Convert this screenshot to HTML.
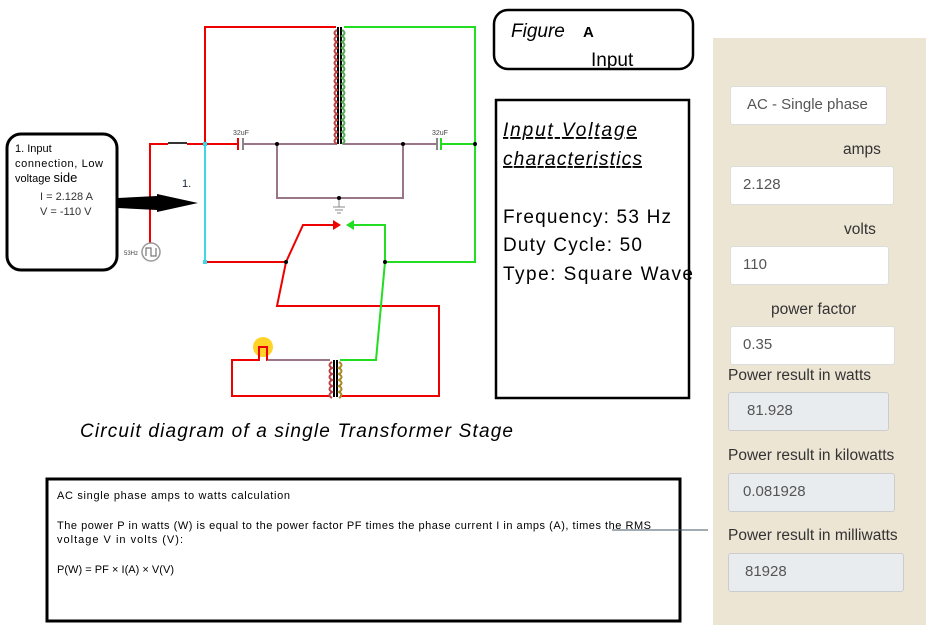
<!DOCTYPE html>
<html><head><meta charset="utf-8"><style>
body{margin:0;width:941px;height:643px;background:#fff;overflow:hidden;position:relative;font-family:"Liberation Sans",sans-serif}
.a{position:absolute}
.inp{position:absolute;background:#fff;border:1px solid #ddd;border-radius:3px;font-size:15px;color:#555;box-sizing:border-box;padding-left:12px;line-height:36px}
.ro{background:#e9ecef;border-color:#ccc}
.lab{position:absolute;font-size:15.5px;color:#333}
</style></head><body>
<svg class="a" style="left:0;top:0" width="941" height="643">
<g fill="none" stroke-width="2">
<polyline points="205,144 205,27 336,27" stroke="#e00"/>
<polyline points="344,27 475,27 475,262 385,262" stroke="#2d2"/>
<polyline points="150,243 150,144 168,144" stroke="#e00"/>
<line x1="168" y1="143" x2="187" y2="143" stroke="#333"/>
<line x1="187" y1="144" x2="238" y2="144" stroke="#e00"/>
<line x1="238" y1="138" x2="238" y2="150" stroke="#e00"/>
<line x1="243" y1="138" x2="243" y2="150" stroke="#888"/>
<polyline points="243,144 337,144" stroke="#978"/>
<polyline points="343,144 437,144" stroke="#978"/>
<line x1="437" y1="138" x2="437" y2="150" stroke="#888"/>
<line x1="441" y1="138" x2="441" y2="150" stroke="#2d2"/>
<line x1="441" y1="144" x2="475" y2="144" stroke="#2d2"/>
<polyline points="277,144 277,198 403,198 403,144" stroke="#978"/>
<line x1="339" y1="198" x2="339" y2="207" stroke="#888" stroke-width="1"/>
<line x1="333" y1="207" x2="345" y2="207" stroke="#888" stroke-width="1"/>
<line x1="335" y1="210" x2="343" y2="210" stroke="#888" stroke-width="1"/>
<line x1="337" y1="213" x2="341" y2="213" stroke="#888" stroke-width="1"/>
<line x1="205" y1="144" x2="205" y2="262" stroke="#3dd8e8"/>
<polyline points="205,262 286,262 303,225 338,225" stroke="#e00"/>
<polyline points="349,225 385,225 385,262" stroke="#2d2"/>
<polyline points="286,262 277,306 439,306 439,396 340,396" stroke="#e00"/>
<polyline points="385,262 376,360 340,360" stroke="#2d2"/>
<polyline points="330,396 232,396 232,360 259,360 259,347 267,347 267,360 330,360" stroke="#e00"/>
<line x1="267" y1="360" x2="330" y2="360" stroke="#978"/>
<line x1="338" y1="27" x2="338" y2="144" stroke="#000" stroke-width="2"/>
<line x1="341" y1="27" x2="341" y2="144" stroke="#000" stroke-width="2"/>
<path d="M337,30 q-5,3 0,6 q-5,3 0,6 q-5,3 0,6 q-5,3 0,6 q-5,3 0,6 q-5,3 0,6 q-5,3 0,6 q-5,3 0,6 q-5,3 0,6 q-5,3 0,6 q-5,3 0,6 q-5,3 0,6 q-5,3 0,6 q-5,3 0,6 q-5,3 0,6 q-5,3 0,6 q-5,3 0,6 q-5,3 0,6 q-5,3 0,6" stroke="#b44" stroke-width="2"/>
<path d="M342,30 q5,3 0,6 q5,3 0,6 q5,3 0,6 q5,3 0,6 q5,3 0,6 q5,3 0,6 q5,3 0,6 q5,3 0,6 q5,3 0,6 q5,3 0,6 q5,3 0,6 q5,3 0,6 q5,3 0,6 q5,3 0,6 q5,3 0,6 q5,3 0,6 q5,3 0,6 q5,3 0,6 q5,3 0,6" stroke="#5a5" stroke-width="2"/>
<line x1="334" y1="360" x2="334" y2="397" stroke="#000"/>
<line x1="337" y1="360" x2="337" y2="397" stroke="#000"/>
<path d="M332,362 q-5,3 0,6 q-5,3 0,6 q-5,3 0,6 q-5,3 0,6 q-5,3 0,6 q-5,3 0,6" stroke="#b44" stroke-width="2"/>
<path d="M339,362 q5,3 0,6 q5,3 0,6 q5,3 0,6 q5,3 0,6 q5,3 0,6 q5,3 0,6" stroke="#a82" stroke-width="2"/>
<circle cx="151" cy="252" r="9" stroke="#999" stroke-width="1.5" fill="#fff"/>
<path d="M146,256 v-8 h5 v8 h5 v-8" stroke="#777" stroke-width="1.2"/>
<rect x="7" y="134" width="110" height="136" rx="14" stroke="#000" stroke-width="3"/>
<rect x="494" y="10" width="199" height="59" rx="14" stroke="#000" stroke-width="2.5"/>
<rect x="496" y="100" width="193" height="298" stroke="#000" stroke-width="2.5"/>
<rect x="47" y="479" width="633" height="142" stroke="#000" stroke-width="3"/>
</g>
<polygon points="333,220 341,225 333,230" fill="#e00"/>
<polygon points="354,220 346,225 354,230" fill="#2d2"/>
<circle cx="263" cy="347" r="10" fill="#fc0" opacity="0.85"/>
<polyline points="259,360 259,347 267,347 267,360" fill="none" stroke="#e00" stroke-width="2"/>
<g fill="#000"><circle cx="277" cy="144" r="2"/><circle cx="403" cy="144" r="2"/><circle cx="475" cy="144" r="2"/><circle cx="339" cy="198" r="2"/><circle cx="286" cy="262" r="2"/><circle cx="385" cy="262" r="2"/></g>
<rect x="203" y="142" width="4" height="4" fill="#3dd8e8"/><rect x="203" y="260" width="4" height="4" fill="#3dd8e8"/>
<polygon points="118,198 157,196 157,194 198,203 157,212 157,210 118,208" fill="#000"/>
<line x1="612" y1="530" x2="708" y2="530" stroke="#456" stroke-width="1"/>
<g font-family="Liberation Sans,sans-serif">
<text x="233" y="135" font-size="7" fill="#444">32uF</text>
<text x="432" y="135" font-size="7" fill="#444">32uF</text>
<text x="124" y="255" font-size="6" fill="#444">53Hz</text>
<text x="182" y="187" font-size="11" fill="#123">1.</text>
<text x="15" y="152" font-size="11" fill="#000">1. Input</text>
<text x="15" y="167" font-size="11" fill="#000" textLength="88">connection, Low</text>
<text x="15" y="182" font-size="11" fill="#000">voltage <tspan font-size="13">side</tspan></text>
<text x="40" y="200" font-size="11" fill="#333">I = 2.128 A</text>
<text x="40" y="215" font-size="11" fill="#333">V = -110 V</text>
<text x="511" y="37" font-size="19" font-style="italic">Figure</text>
<text x="583" y="37" font-size="15" font-weight="bold">A</text>
<text x="591" y="66" font-size="19">Input</text>
<text x="503" y="136" font-size="19" font-style="italic" text-decoration="underline" textLength="134">Input Voltage </text>
<text x="503" y="165" font-size="19" font-style="italic" text-decoration="underline" textLength="139">characteristics</text>
<text x="503" y="223" font-size="19" textLength="168">Frequency: 53 Hz</text>
<text x="503" y="251" font-size="19" textLength="139">Duty Cycle: 50</text>
<text x="503" y="280" font-size="19" textLength="190">Type: Square Wave</text>
<text x="80" y="437" font-size="19" font-style="italic" textLength="433">Circuit diagram of a single Transformer Stage</text>
<text x="57" y="499" font-size="11" textLength="233">AC single phase amps to watts calculation</text>
<text x="57" y="529" font-size="11" textLength="594">The power P in watts (W) is equal to the power factor PF times the phase current I in amps (A), times the RMS</text>
<text x="57" y="543" font-size="11" textLength="126">voltage V in volts (V):</text>
<text x="57" y="573" font-size="11" textLength="117">P(W) = PF × I(A) × V(V)</text>
</g>
</svg>
<div class="a" style="left:713px;top:38px;width:213px;height:587px;background:#ede5d4"></div>
<div class="inp" style="left:730px;top:86px;width:157px;height:39px;padding-left:16px">AC - Single phase</div>
<div class="lab" style="left:843px;top:141px">amps</div>
<div class="inp" style="left:730px;top:166px;width:164px;height:39px">2.128</div>
<div class="lab" style="left:844px;top:221px">volts</div>
<div class="inp" style="left:730px;top:246px;width:159px;height:39px">110</div>
<div class="lab" style="left:771px;top:301px">power factor</div>
<div class="inp" style="left:730px;top:326px;width:165px;height:39px">0.35</div>
<div class="lab" style="left:728px;top:367px">Power result in watts</div>
<div class="inp ro" style="left:728px;top:392px;width:161px;height:39px;padding-left:18px">81.928</div>
<div class="lab" style="left:728px;top:447px">Power result in kilowatts</div>
<div class="inp ro" style="left:728px;top:473px;width:167px;height:39px;padding-left:14px">0.081928</div>
<div class="lab" style="left:728px;top:527px">Power result in milliwatts</div>
<div class="inp ro" style="left:728px;top:553px;width:176px;height:39px;padding-left:16px">81928</div>
</body></html>
